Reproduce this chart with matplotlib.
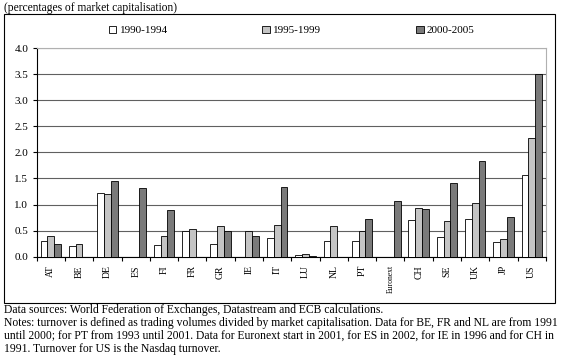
import matplotlib.pyplot as plt
import matplotlib.patches as patches
import numpy as np

plt.rcParams['font.family'] = ['Liberation Serif', 'DejaVu Serif']

# data
countries = ["AT", "BE", "DE", "ES", "FI", "FR", "GR", "IE", "IT", "LU",
             "NL", "PT", "Euronext", "CH", "SE", "UK", "JP", "US"]
p1990 = [0.30, 0.21, 1.23, 0.00, 0.23, 0.50, 0.25, 0.00, 0.36, 0.04,
         0.30, 0.30, 0.00, 0.70, 0.37, 0.72, 0.29, 1.56]
p1995 = [0.40, 0.24, 1.20, 0.00, 0.40, 0.53, 0.58, 0.50, 0.60, 0.05,
         0.58, 0.50, 0.00, 0.94, 0.69, 1.02, 0.34, 2.27]
p2000 = [0.25, 0.00, 1.46, 1.32, 0.90, 0.00, 0.50, 0.40, 1.33, 0.02,
         0.00, 0.72, 1.07, 0.92, 1.42, 1.84, 0.77, 3.50]
labels = ["1990-1994", "1995-1999", "2000-2005"]
colors = ["white", "#c4c4c4", "#7a7a7a"]

fig = plt.figure(figsize=(5.64, 3.59), dpi=100)
ax = fig.add_axes([0.065, 0.285, 0.903, 0.581])

x = np.arange(len(countries))
w = 0.24
for i, (vals, lab, c) in enumerate(zip([p1990, p1995, p2000], labels, colors)):
    v = np.array(vals)
    keep = v > 0
    ax.bar(x[keep] + (i - 1) * w, v[keep], w, color=c, edgecolor="black",
           linewidth=0.6, label=lab, zorder=3)

ax.set_xlim(-0.5, len(countries) - 0.5)
ax.set_ylim(0, 4.0)
ax.set_yticks(np.arange(0, 4.01, 0.5))
ax.set_yticklabels([f"{t:.1f}" for t in np.arange(0, 4.01, 0.5)], fontsize=8)
ax.yaxis.grid(True, color="#606060", linewidth=0.8, zorder=0)
ax.set_xticks(x)
ax.set_xticklabels(countries, rotation=90, fontsize=7)
for t in ax.get_xticklabels():
    if t.get_text() == "Euronext":
        t.set_fontsize(5.5)
ax.set_xticks(np.arange(-0.5, len(countries)), minor=True)
ax.tick_params(axis="x", which="major", length=0, pad=6)
ax.tick_params(axis="x", which="minor", length=3, width=0.8)
ax.tick_params(axis="y", length=3, width=0.8, pad=3)
for s in ["top", "right"]:
    ax.spines[s].set_color("#b0b0b0")
    ax.spines[s].set_linewidth(0.8)
for s in ["left", "bottom"]:
    ax.spines[s].set_color("black")
    ax.spines[s].set_linewidth(0.8)

fig.legend(loc="center", bbox_to_anchor=(0.517, 0.915), ncol=3, frameon=False,
           fontsize=8, handlelength=0.7, handleheight=0.7, handletextpad=0.3,
           columnspacing=8.5)

# outer frame
fig.patches.append(patches.Rectangle((4 / 564, 1 - 303 / 359), 551 / 564, 289 / 359,
                                     transform=fig.transFigure, fill=False,
                                     edgecolor="black", linewidth=0.8))

fig.text(4 / 564, 1 - 8 / 359, "(percentages of market capitalisation)",
         fontsize=8.3, va="center", ha="left")
notes = ("Data sources: World Federation of Exchanges, Datastream and ECB calculations.\n"
         "Notes: turnover is defined as trading volumes divided by market capitalisation. Data for BE, FR and NL are from 1991\n"
         "until 2000; for PT from 1993 until 2001. Data for Euronext start in 2001, for ES in 2002, for IE in 1996 and for CH in\n"
         "1991. Turnover for US is the Nasdaq turnover.")
fig.text(4 / 564, 1 - 304 / 359, notes, fontsize=8.4, va="top", ha="left",
         linespacing=1.12)

fig.savefig("out.png", dpi=100)
